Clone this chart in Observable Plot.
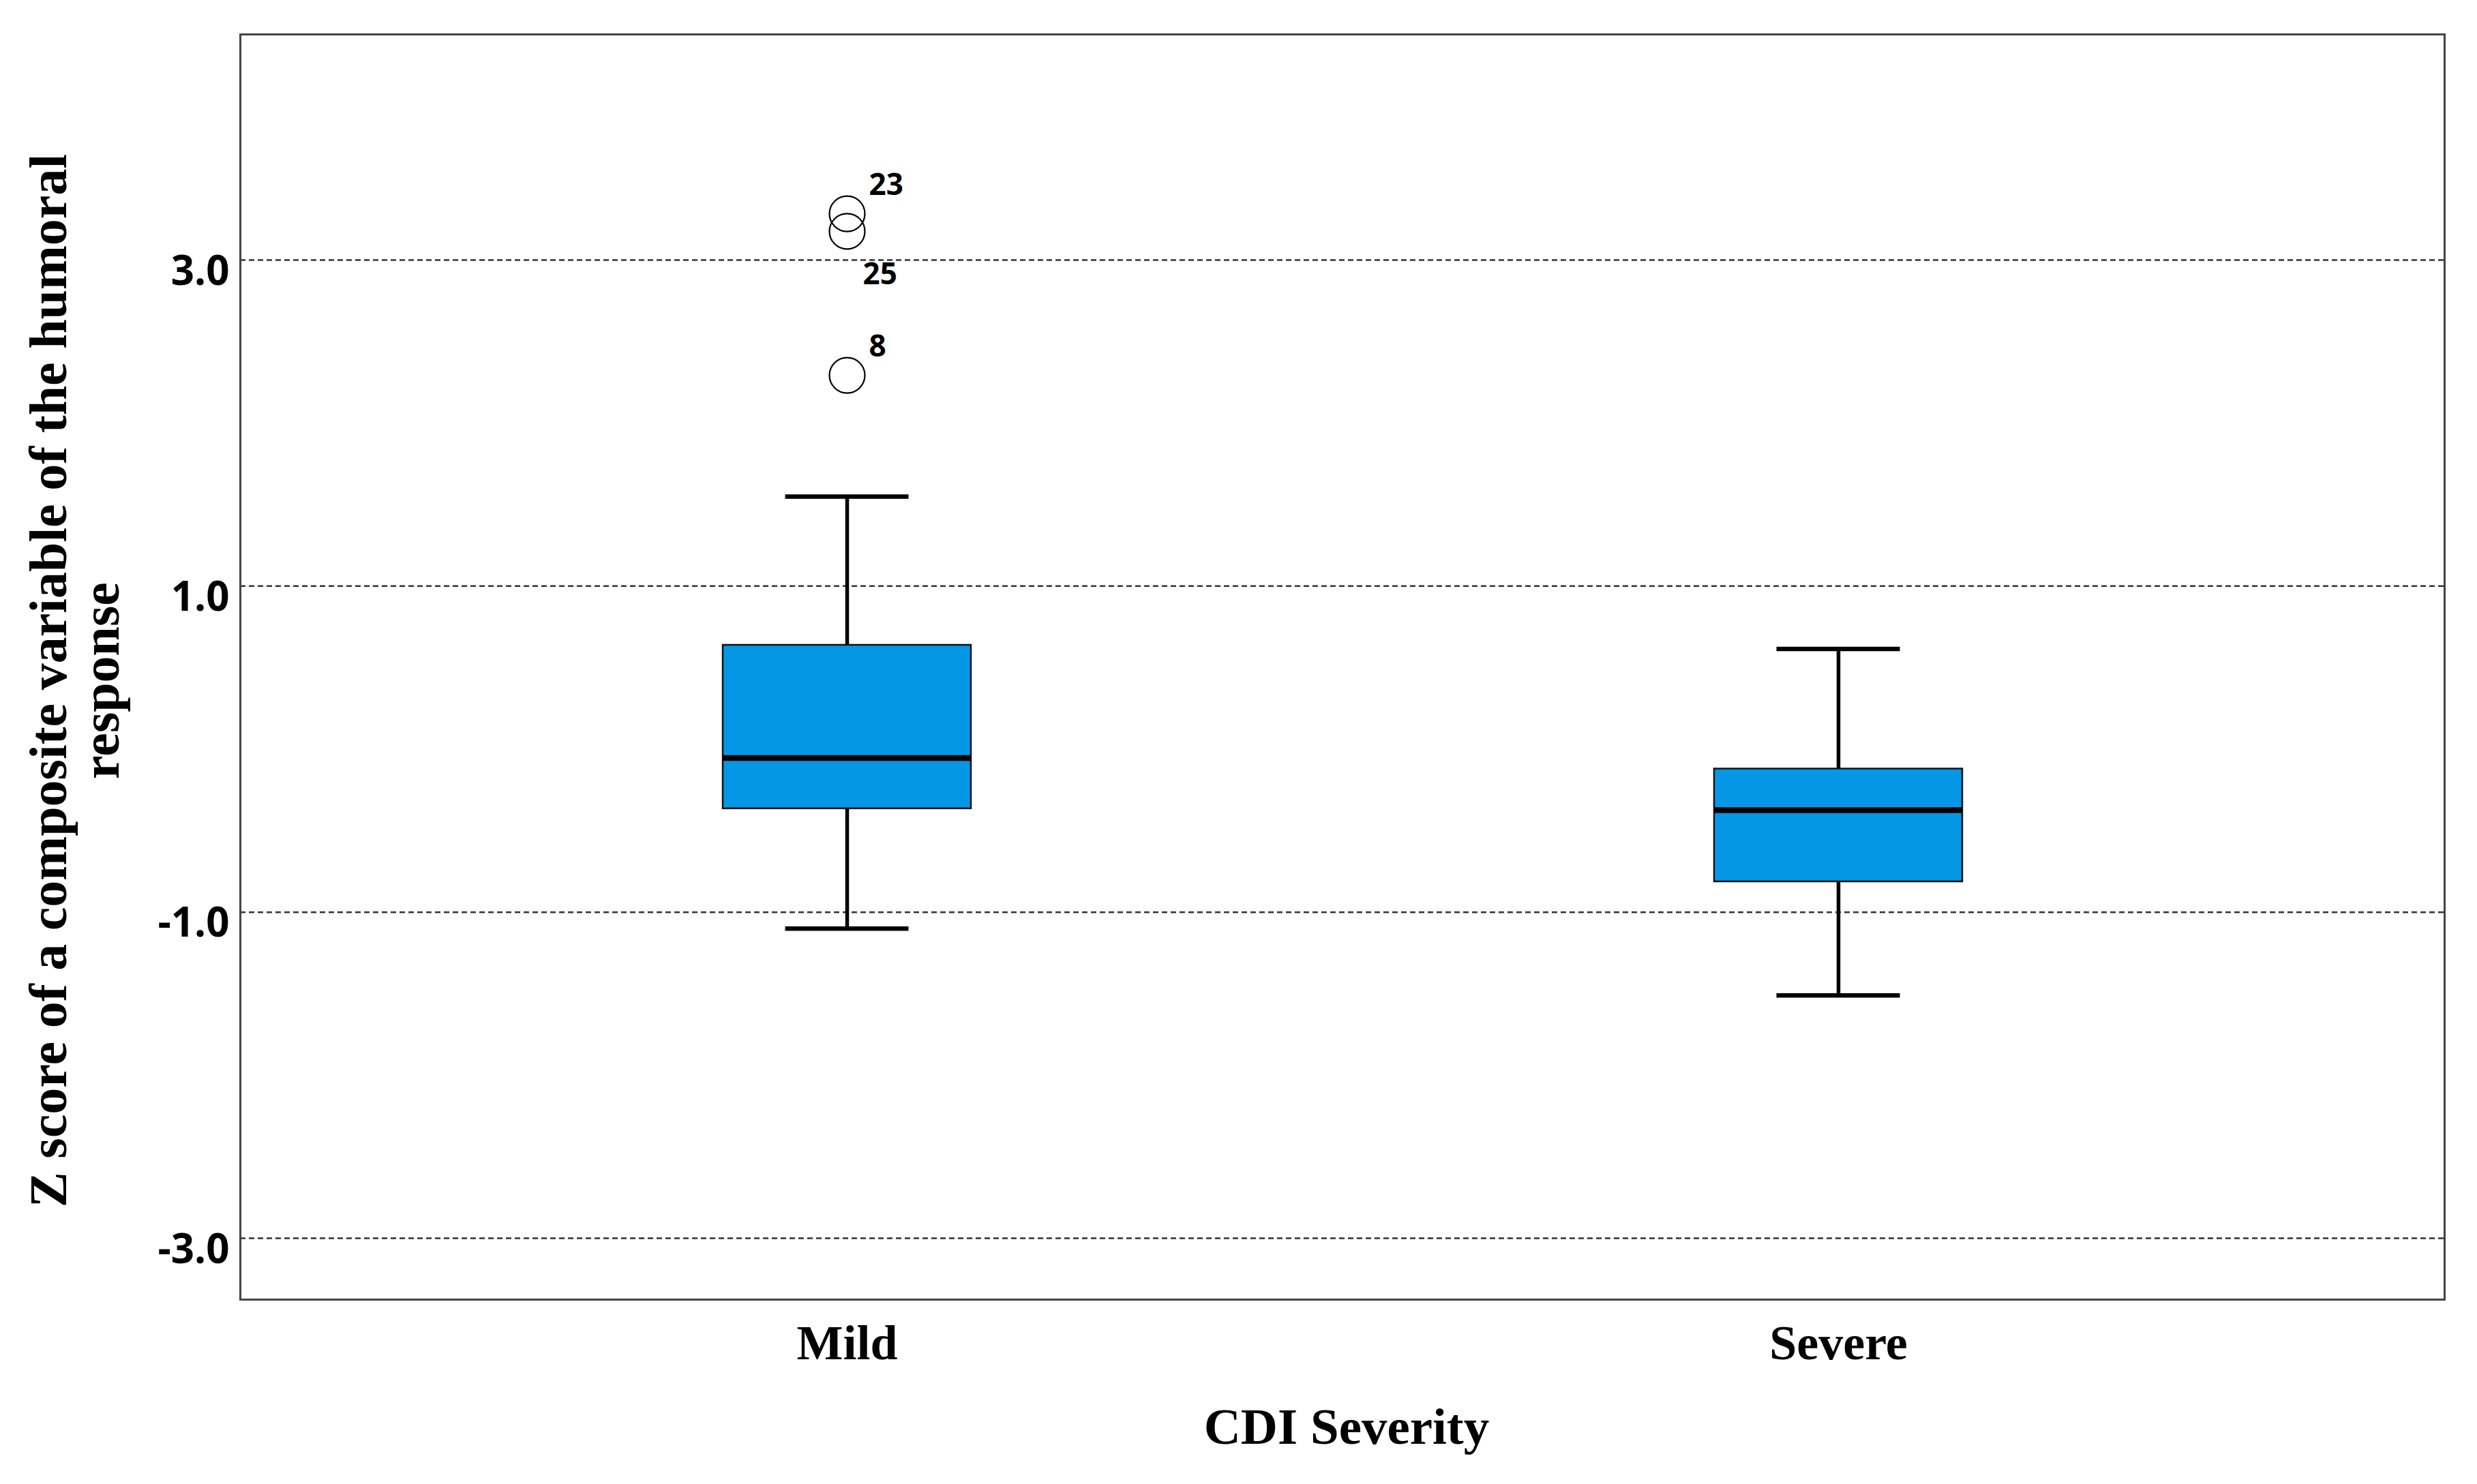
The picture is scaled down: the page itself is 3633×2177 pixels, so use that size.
<!DOCTYPE html>
<html><head><meta charset="utf-8">
<script src="https://cdn.jsdelivr.net/npm/d3@7"></script>
<script src="https://cdn.jsdelivr.net/npm/@observablehq/plot@0.6"></script>
<style>body{margin:0;background:#fff}</style>
</head><body><div id="chart"></div>
<script>
// ---- data ----
const categories = ["Mild", "Severe"];
const lowerWhisker = [-1.10, -1.51];
const q1 = [-0.365, -0.813];
const median = [-0.054, -0.374];
const q3 = [0.638, -0.121];
const upperWhisker = [1.549, 0.615];
const outlierGroup = ["Mild", "Mild", "Mild"];
const outlierValue = [3.284, 3.176, 2.293];
const outlierCase = ["23", "25", "8"];
const yTicks = [-3, -1, 1, 3];
const yDomain = [-3.376, 4.384];
const xTitle = "CDI Severity";
const yTitleLines = ["Z score of a composite variable of the humoral", "response"];

const boxes = categories.map((c, i) => ({group: c, lo: lowerWhisker[i], q1: q1[i], med: median[i], q3: q3[i], hi: upperWhisker[i]}));
const outliers = outlierValue.map((v, i) => ({group: outlierGroup[i], value: v, id: outlierCase[i]}));
// label goes below the circle when another outlier of the group sits just above it
outliers.forEach(o => {
  o.below = outliers.some(p => p !== o && p.group === o.group && p.value > o.value && p.value - o.value < 0.25);
});

const serif = "'Liberation Serif','Times New Roman',serif";
const sans = "'Open Sans','DejaVu Sans',sans-serif";

const chart = Plot.plot({
  width: 3633, height: 2177,
  marginLeft: 352, marginRight: 48, marginTop: 50, marginBottom: 271,
  style: {background: "#fff", overflow: "visible"},
  x: {domain: categories, paddingInner: 0.75, paddingOuter: 0.486, label: null},
  y: {domain: yDomain, label: null},
  marks: [
    Plot.ruleY(yTicks, {stroke: "#333", strokeWidth: 2.5, strokeDasharray: "8,5"}),
    Plot.ruleX(boxes, {x: "group", y1: "lo", y2: "q1", stroke: "#000", strokeWidth: 5.5}),
    Plot.ruleX(boxes, {x: "group", y1: "q3", y2: "hi", stroke: "#000", strokeWidth: 5.5}),
    Plot.tickY(boxes, {x: "group", y: "lo", stroke: "#000", strokeWidth: 6.5, insetLeft: 91.5, insetRight: 91.5}),
    Plot.tickY(boxes, {x: "group", y: "hi", stroke: "#000", strokeWidth: 6.5, insetLeft: 91.5, insetRight: 91.5}),
    Plot.barY(boxes, {x: "group", y1: "q1", y2: "q3", fill: "#0497e6", stroke: "#111", strokeWidth: 2.5}),
    Plot.tickY(boxes, {x: "group", y: "med", stroke: "#000", strokeWidth: 8.5}),
    Plot.dot(outliers, {x: "group", y: "value", r: 26, stroke: "#000", strokeWidth: 2.2, fill: "none"}),
    Plot.text(outliers.filter(o => !o.below), {x: "group", y: "value", text: "id", textAnchor: "start", lineAnchor: "bottom", dx: 32, dy: -28, fontSize: 44, fontWeight: "bold", fontFamily: sans, fill: "#000"}),
    Plot.text(outliers.filter(o => o.below), {x: "group", y: "value", text: "id", textAnchor: "start", lineAnchor: "bottom", dx: 23, dy: 78, fontSize: 44, fontWeight: "bold", fontFamily: sans, fill: "#000"}),
    Plot.axisY(yTicks, {tickSize: 0, tickPadding: 16, tickFormat: d => d.toFixed(1), fontSize: 60, fontWeight: "bold", fontFamily: sans, fill: "#000", dy: 17, label: null}),
    Plot.axisX({tickSize: 0, tickPadding: 36, fontSize: 72, fontWeight: "bold", fontFamily: serif, fill: "#000", label: null}),
    Plot.text([xTitle], {frameAnchor: "bottom", dx: 6, dy: 211, lineAnchor: "bottom", fontSize: 75, fontWeight: "bold", fontFamily: serif, fill: "#000"}),
    Plot.text([yTitleLines.join("\n")], {frameAnchor: "left", rotate: -90, textAnchor: "middle", dx: -242, dy: 20, lineAnchor: "middle", lineHeight: 0.99, fontSize: 78, fontWeight: "bold", fontFamily: serif, fill: "#000"}),
    Plot.frame({stroke: "#444", strokeWidth: 3})
  ]
});
document.getElementById("chart").appendChild(chart);
</script>
</body></html>
